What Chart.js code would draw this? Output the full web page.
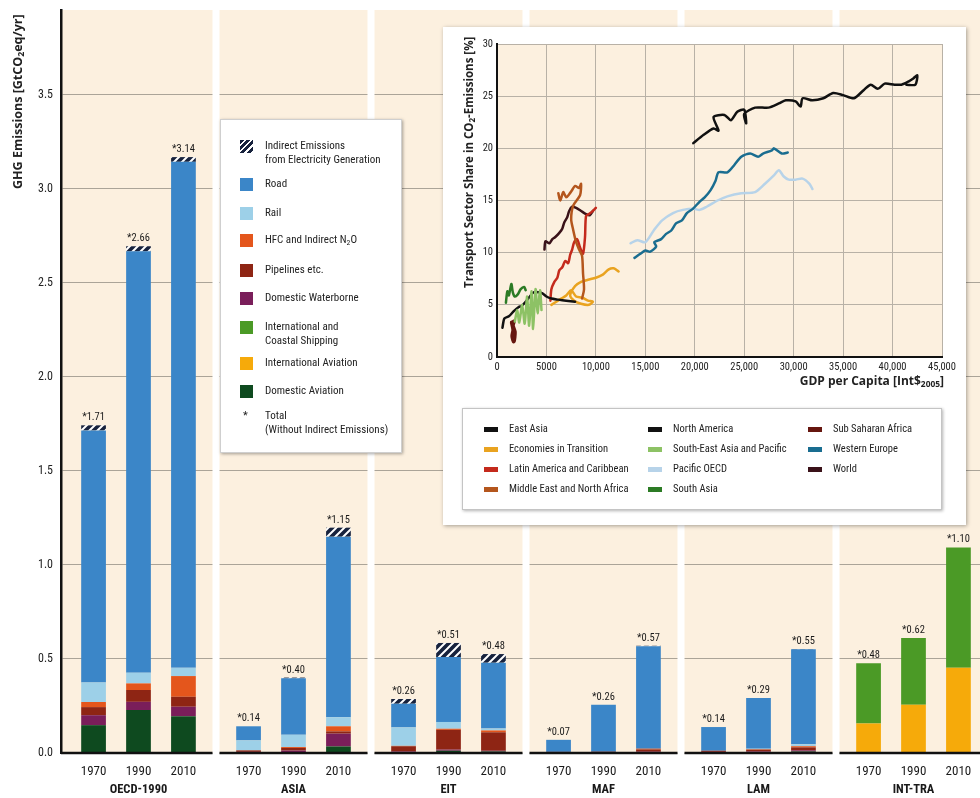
<!DOCTYPE html>
<html lang="en">
<head>
<meta charset="UTF-8">
<title>Transport GHG emissions by region</title>
<script src="https://cdn.jsdelivr.net/npm/chart.js"></script>
<style>
  html, body { margin: 0; padding: 0; background: #fff; overflow: hidden; }
  body { width: 980px; height: 798px; position: relative; color: #222;
         font-family: 'Liberation Sans Narrow', 'Roboto Condensed', Roboto, sans-serif; }
  canvas { position: absolute; }
  #main { left: 0; top: 0; }
  .rot { position: absolute; font-weight: bold; white-space: nowrap; line-height: 14px;
         font-family: 'Open Sans', Roboto, sans-serif;
         transform-origin: left top; transform: rotate(-90deg); }
  sub { font-size: 70%; vertical-align: -2px; line-height: 0; }
  #sectorLegend { position: absolute; left: 220px; top: 119px; width: 180px; height: 332px; background: #fff;
                  border: 1px solid #cfcfcf; box-shadow: 1px 1px 3px rgba(0,0,0,.35); font-size: 11px; }
  #sectorLegend .it { position: absolute; left: 19px; line-height: 14px; }
  #sectorLegend .it i { position: absolute; left: 0; top: 1px; width: 13px; height: 13px; }
  #sectorLegend .it span { position: absolute; left: 25px; top: 0; white-space: nowrap; }
  #inset { position: absolute; left: 443px; top: 27px; width: 523px; height: 498px; background: #fff;
           box-shadow: 1px 1px 4px rgba(0,0,0,.35); }
  #lines { left: 443px; top: 27px; }
  #xTitle { position: absolute; right: 36px; top: 372px; font-weight: bold; font-size: 12px; white-space: nowrap;
            font-family: 'Open Sans', Roboto, sans-serif; }
  #regionLegend { position: absolute; left: 462px; top: 408px; width: 478px; height: 100px; background: #fff;
                  border: 1px solid #c4c4c4; box-shadow: 1px 1px 3px rgba(0,0,0,.3); font-size: 10.5px; }
  #regionLegend .ri { position: absolute; line-height: 14px; white-space: nowrap; }
  #regionLegend .ri i { position: absolute; left: 0; top: 5px; width: 14px; height: 5px; }
  #regionLegend .ri span { position: absolute; left: 25px; top: 0; }
</style>
</head>
<body>
<canvas id="main" width="991" height="798"></canvas>
<div class="rot" style="left:11px; top:189px; font-size:12.5px;">GHG Emissions [GtCO<sub>2</sub>eq/yr]</div>

<div id="sectorLegend">
  <div class="it" style="top:19px"><i style="background:repeating-linear-gradient(135deg,#17223d 0 3px,#fff 3px 4.5px)"></i><span>Indirect Emissions<br>from Electricity Generation</span></div>
  <div class="it" style="top:57px"><i style="background:#3b86c8"></i><span>Road</span></div>
  <div class="it" style="top:86px"><i style="background:#9dd0e8"></i><span>Rail</span></div>
  <div class="it" style="top:113px"><i style="background:#e4561c"></i><span>HFC and Indirect N<sub>2</sub>O</span></div>
  <div class="it" style="top:143px"><i style="background:#8e2514"></i><span>Pipelines etc.</span></div>
  <div class="it" style="top:171px"><i style="background:#7a1e5a"></i><span>Domestic Waterborne</span></div>
  <div class="it" style="top:200px"><i style="background:#4b9a26"></i><span>International and<br>Coastal Shipping</span></div>
  <div class="it" style="top:236px"><i style="background:#f6aa0a"></i><span>International Aviation</span></div>
  <div class="it" style="top:264px"><i style="background:#0e4a1f"></i><span>Domestic Aviation</span></div>
  <div class="it" style="top:289px"><span style="left:3px">*</span><span>Total<br>(Without Indirect Emissions)</span></div>
</div>

<div id="inset"></div>
<canvas id="lines" width="523" height="380"></canvas>
<div class="rot" style="left:462px; top:288px; font-size:11.5px;">Transport Sector Share in CO<sub>2</sub>-Emissions [%]</div>
<div id="xTitle">GDP per Capita [Int$<sub>2005</sub>]</div>

<div id="regionLegend">
  <div class="ri" style="left:21px;top:13px"><i style="background:#111"></i><span>East Asia</span></div>
  <div class="ri" style="left:21px;top:33px"><i style="background:#e9a320"></i><span>Economies in Transition</span></div>
  <div class="ri" style="left:21px;top:53px"><i style="background:#c42a1c"></i><span>Latin America and Caribbean</span></div>
  <div class="ri" style="left:21px;top:73px"><i style="background:#b4561d"></i><span>Middle East and North Africa</span></div>
  <div class="ri" style="left:185px;top:13px"><i style="background:#111"></i><span>North America</span></div>
  <div class="ri" style="left:185px;top:33px"><i style="background:#8dc265"></i><span>South-East Asia and Pacific</span></div>
  <div class="ri" style="left:185px;top:53px"><i style="background:#b7d3e9"></i><span>Pacific OECD</span></div>
  <div class="ri" style="left:185px;top:73px"><i style="background:#2c7b25"></i><span>South Asia</span></div>
  <div class="ri" style="left:345px;top:13px"><i style="background:#66160f"></i><span>Sub Saharan Africa</span></div>
  <div class="ri" style="left:345px;top:33px"><i style="background:#1a6d90"></i><span>Western Europe</span></div>
  <div class="ri" style="left:345px;top:53px"><i style="background:#3a1219"></i><span>World</span></div>
</div>

<script>
// ---- bar data: rows = 1970, 1990, 2010; columns = regions ----
const regions = ['OECD-1990', 'ASIA', 'EIT', 'MAF', 'LAM', 'INT-TRA'];
const years = ['1970', '1990', '2010'];

const domesticAviation = [
  [0.148, 0.003, 0.005, 0.002, 0.004, 0],
  [0.228, 0.005, 0.012, 0.003, 0.005, 0],
  [0.196, 0.035, 0.008, 0.005, 0.008, 0]
];
const domesticWaterborne = [
  [0.053, 0.003, 0.003, 0, 0.002, 0],
  [0.044, 0.008, 0.006, 0, 0.003, 0],
  [0.050, 0.068, 0.004, 0.002, 0.006, 0]
];
const pipelines = [
  [0.043, 0.008, 0.028, 0.004, 0.006, 0],
  [0.063, 0.014, 0.105, 0.004, 0.010, 0],
  [0.053, 0.012, 0.098, 0.012, 0.016, 0]
];
const hfc = [
  [0.027, 0, 0.002, 0, 0, 0],
  [0.035, 0.005, 0.006, 0, 0.002, 0],
  [0.110, 0.027, 0.010, 0.004, 0.006, 0]
];
const rail = [
  [0.104, 0.053, 0.098, 0, 0, 0],
  [0.057, 0.065, 0.036, 0, 0.003, 0],
  [0.044, 0.048, 0.010, 0, 0.010, 0]
];
const road = [
  [1.34, 0.075, 0.126, 0.064, 0.126, 0],
  [2.24, 0.30, 0.345, 0.25, 0.27, 0],
  [2.69, 0.96, 0.35, 0.545, 0.505, 0]
];
const intlAviation = [
  [0, 0, 0, 0, 0, 0.157],
  [0, 0, 0, 0, 0, 0.256],
  [0, 0, 0, 0, 0, 0.453]
];
const intlShipping = [
  [0, 0, 0, 0, 0, 0.32],
  [0, 0, 0, 0, 0, 0.355],
  [0, 0, 0, 0, 0, 0.64]
];
const indirect = [
  [0.027, 0, 0.025, 0, 0, 0],
  [0.027, 0.004, 0.075, 0, 0, 0],
  [0.025, 0.048, 0.046, 0.002, 0.002, 0]
];
const totalLabels = [
  ['1.71', '0.14', '0.26', '0.07', '0.14', '0.48'],
  ['2.66', '0.40', '0.51', '0.26', '0.29', '0.62'],
  ['3.14', '1.15', '0.48', '0.57', '0.55', '1.10']
];
const yTicks = [0, 0.5, 1, 1.5, 2, 2.5, 3, 3.5];

// ---- inset data: [GDP per capita, transport share %] ----
const northAmerica = [[19850,20.5],[20900,21.3],[21900,21.9],[22400,21.7],[21900,23.0],[23000,23.2],[23650,22.7],[24300,23.5],[25000,23.7],[25200,22.4],[25000,23.3],[26100,23.9],[27450,23.9],[28500,24.3],[29200,24.6],[30200,24.5],[30700,24.0],[30900,24.8],[31900,24.6],[33000,24.8],[34000,25.3],[35000,25.1],[36100,24.8],[37100,25.6],[37800,26.1],[38500,25.7],[39200,26.2],[40200,26.1],[40900,26.1],[41600,26.4],[42100,26.7],[42500,27.0],[42300,26.1],[41400,26.1]];
const westernEurope = [[13900,9.5],[14500,9.9],[15000,10.2],[15500,10.1],[16100,10.6],[15900,11.0],[16600,11.3],[17100,11.8],[17600,12.1],[18100,12.8],[18700,13.1],[19200,13.8],[19800,14.2],[20500,14.9],[21000,15.3],[21600,16.0],[22100,16.9],[22400,17.7],[23300,17.7],[24000,18.4],[24700,19.2],[25600,19.5],[26400,19.2],[26900,19.5],[27800,19.8],[28000,20.0],[28800,19.5],[29400,19.6]];
const pacificOECD = [[13500,10.9],[14200,11.2],[15000,11.0],[15900,12.2],[16700,13.1],[17800,13.8],[18800,14.1],[19900,14.2],[20500,14.1],[21200,14.4],[22300,15.0],[23300,15.4],[24700,15.7],[26100,15.8],[27100,16.6],[28000,17.4],[28500,17.9],[29000,17.3],[29500,17.0],[30200,17.0],[30900,17.1],[31600,16.6],[31900,16.1]];
const eastAsia = [[550,2.8],[750,3.7],[1200,3.9],[1700,4.4],[2200,4.8],[2500,4.9],[2900,5.3],[3400,5.9],[3700,6.2],[4200,6.2],[4600,6.1],[5000,5.8],[5500,5.6],[6200,5.5],[7000,5.4],[7900,5.3]];
const southAsia = [[900,5.2],[1050,6.3],[1200,5.9],[1450,7.0],[1600,6.2],[1800,5.8],[2100,6.0],[2400,6.5],[2750,6.7],[2900,6.4]];
const southEastAsia = [[1800,3.4],[2050,4.5],[2250,3.3],[2550,5.0],[2800,3.2],[3050,5.8],[3250,3.0],[3500,6.3],[3650,2.7],[3900,6.5],[4100,4.2],[4350,6.4],[4500,4.5]];
const subSaharan = [[1500,3.3],[1650,2.6],[1550,2.0],[1700,1.5],[1800,2.4],[1600,3.0],[1700,3.4]];
const world = [[4800,10.3],[4900,11.1],[5300,10.9],[5600,11.3],[5900,11.5],[6300,11.9],[6600,12.3],[6800,12.9],[7100,13.4],[7300,14.0],[7600,14.4],[8000,14.3],[8500,14.0],[9000,13.7],[9400,13.6],[9700,14.0]];
const latinAmerica = [[5400,5.4],[5500,6.5],[5800,7.2],[6100,7.6],[6300,8.3],[6600,8.6],[6900,9.2],[7200,9.0],[7400,9.8],[7600,10.3],[7800,11.0],[8100,11.3],[8400,10.5],[8700,9.9],[8900,11.5],[9000,13.5],[9300,13.7],[9700,14.0],[10000,14.3]];
const middleEast = [[6200,15.7],[6400,15.0],[6700,15.8],[7000,15.3],[7300,15.6],[7600,16.0],[7900,16.4],[8300,16.2],[8500,16.6],[8400,15.5],[7700,14.5],[7500,13.2],[7700,12.2],[8000,11.0],[8300,10.3],[8600,9.7],[8700,8.0],[8800,6.5],[8600,5.6]];
const economiesInTransition = [[5500,5.0],[6000,5.3],[6500,5.6],[7000,5.9],[7500,6.4],[8000,5.8],[8600,5.7],[9200,5.4],[9700,5.3],[9300,5.0],[8500,5.1],[7800,5.4],[7400,5.9],[7900,6.8],[8500,7.2],[9200,7.4],[10000,7.6],[10700,7.9],[11300,8.4],[11800,8.5],[12300,8.2]];

const FONT = "'Liberation Sans Narrow', 'Roboto Condensed', Roboto, sans-serif";
const BEIGE = '#fcf0df';

function hatchPattern(ctx) {
  const c = document.createElement('canvas');
  c.width = 8; c.height = 8;
  const g = c.getContext('2d');
  g.fillStyle = '#17223d';
  g.fillRect(0, 0, 8, 8);
  g.strokeStyle = '#fff';
  g.lineWidth = 2;
  g.beginPath();
  g.moveTo(-1, 9); g.lineTo(9, -1);
  g.moveTo(-3, 3); g.lineTo(3, -3);
  g.moveTo(5, 11); g.lineTo(11, 5);
  g.stroke();
  return ctx.createPattern(c, 'repeat');
}

const mainCtx = document.getElementById('main').getContext('2d');
const sectors = [
  { label: 'Domestic Aviation', values: domesticAviation, color: '#0e4a1f' },
  { label: 'Domestic Waterborne', values: domesticWaterborne, color: '#7a1e5a' },
  { label: 'Pipelines etc.', values: pipelines, color: '#8e2514' },
  { label: 'HFC and Indirect N2O', values: hfc, color: '#e4561c' },
  { label: 'Rail', values: rail, color: '#9dd0e8' },
  { label: 'Road', values: road, color: '#3b86c8' },
  { label: 'International Aviation', values: intlAviation, color: '#f6aa0a' },
  { label: 'International and Coastal Shipping', values: intlShipping, color: '#4b9a26' },
  { label: 'Indirect Emissions', values: indirect, color: hatchPattern(mainCtx) }
];

const datasets = [];
years.forEach((yr, yi) => {
  sectors.forEach(s => {
    datasets.push({ label: s.label, stack: yr, data: s.values[yi], backgroundColor: s.color,
                    borderWidth: 0, categoryPercentage: 0.87, barPercentage: 0.55 });
  });
});

// beige panels, white gaps, baselines, year / region / total labels
const panels = {
  id: 'panels',
  beforeDraw(chart) {
    const a = chart.chartArea, c = chart.ctx;
    c.save();
    c.fillStyle = BEIGE;
    c.fillRect(a.left, a.top, a.right - a.left, a.bottom - a.top);
    c.restore();
  },
  beforeDatasetsDraw(chart) {
    const a = chart.chartArea, c = chart.ctx;
    const w = (a.right - a.left) / regions.length;
    c.save();
    c.fillStyle = '#fff';
    for (let i = 1; i < regions.length; i++) {
      c.fillRect(a.left + i * w - 3.5, a.top - 1, 7, a.bottom - a.top + 4);
    }
    c.restore();
  },
  afterDatasetsDraw(chart) {
    const a = chart.chartArea, c = chart.ctx, x = chart.scales.x;
    const w = (a.right - a.left) / regions.length;
    c.save();
    c.strokeStyle = '#111';
    c.lineWidth = 2.5;
    for (let i = 0; i < regions.length; i++) {
      c.beginPath();
      c.moveTo(a.left + i * w + (i ? 3.5 : 0), a.bottom);
      c.lineTo(a.left + (i + 1) * w - 3.5, a.bottom);
      c.stroke();
    }
    c.fillStyle = '#1a1a1a';
    c.textAlign = 'center';
    years.forEach((yr, yi) => {
      const meta = chart.getDatasetMeta(yi * sectors.length + sectors.length - 1);
      meta.data.forEach((bar, r) => {
        c.font = '13px ' + FONT;
        c.textBaseline = 'middle';
        c.fillText(yr, bar.x, 772);
        c.font = '10.5px ' + FONT;
        c.textBaseline = 'alphabetic';
        c.fillText('*' + totalLabels[yi][r], bar.x, bar.y - 5);
      });
    });
    c.font = 'bold 12.5px ' + FONT;
    c.textBaseline = 'middle';
    regions.forEach((r, i) => c.fillText(r, x.getPixelForTick(i), 790));
    c.restore();
  }
};

new Chart(mainCtx, {
  type: 'bar',
  data: { labels: regions, datasets: datasets },
  options: {
    responsive: false, animation: false, devicePixelRatio: 1,
    layout: { padding: { top: 10, left: 0, right: 0, bottom: 0 } },
    plugins: { legend: { display: false }, tooltip: { enabled: false } },
    scales: {
      x: {
        stacked: true,
        ticks: { display: false },
        grid: { display: false },
        border: { display: false },
        afterFit(s) { s.height = 45; s.paddingLeft = 0; s.paddingRight = 0; }
      },
      y: {
        stacked: true, min: 0, max: 3.95,
        afterBuildTicks(s) { s.ticks = yTicks.map(v => ({ value: v })); },
        ticks: { font: { size: 12, family: FONT }, color: '#222', padding: 8,
                 callback: v => v.toFixed(1) },
        grid: { color: '#aba498', lineWidth: 1, drawTicks: false },
        border: { display: true, color: '#111', width: 2.5 },
        afterFit(s) { s.width = 61; s.paddingTop = 0; s.paddingBottom = 0; }
      }
    }
  },
  plugins: [panels]
});

// ---- inset line chart ----
const regionLines = [
  { label: 'North America', pts: northAmerica, color: '#111111' },
  { label: 'Western Europe', pts: westernEurope, color: '#1a6d90' },
  { label: 'Pacific OECD', pts: pacificOECD, color: '#b7d3e9' },
  { label: 'South Asia', pts: southAsia, color: '#2c7b25' },
  { label: 'South-East Asia and Pacific', pts: southEastAsia, color: '#8dc265' },
  { label: 'East Asia', pts: eastAsia, color: '#111111' },
  { label: 'Sub Saharan Africa', pts: subSaharan, color: '#66160f', width: 4 },
  { label: 'Middle East and North Africa', pts: middleEast, color: '#b4561d' },
  { label: 'Latin America and Caribbean', pts: latinAmerica, color: '#c42a1c' },
  { label: 'World', pts: world, color: '#3a1219' },
  { label: 'Economies in Transition', pts: economiesInTransition, color: '#e9a320' }
];

const plotBg = {
  id: 'plotBg',
  beforeDraw(chart) {
    const a = chart.chartArea, c = chart.ctx;
    c.save();
    c.fillStyle = BEIGE;
    c.fillRect(a.left, a.top, a.right - a.left, a.bottom - a.top);
    c.restore();
  }
};

new Chart(document.getElementById('lines'), {
  type: 'line',
  data: {
    datasets: regionLines.map(l => ({
      label: l.label, data: l.pts.map(p => ({ x: p[0], y: p[1] })),
      borderColor: l.color, borderWidth: l.width || 2.5, pointRadius: 0, tension: 0.25,
      borderCapStyle: 'round', borderJoinStyle: 'round', fill: false
    }))
  },
  options: {
    responsive: false, animation: false, devicePixelRatio: 1,
    layout: { padding: { top: 17, right: 24, left: 0, bottom: 0 } },
    plugins: { legend: { display: false }, tooltip: { enabled: false } },
    scales: {
      x: {
        type: 'linear', min: 0, max: 45000,
        ticks: { stepSize: 5000, font: { size: 10.5, family: FONT }, color: '#222', padding: 4, maxRotation: 0,
                 callback: v => v < 10000 ? String(v) : v.toLocaleString('en-US') },
        grid: { color: '#b8b1a6', drawTicks: false },
        border: { color: '#111', width: 2 },
        afterFit(s) { s.height = 50; s.paddingLeft = 0; s.paddingRight = 0; }
      },
      y: {
        min: 0, max: 30,
        ticks: { stepSize: 5, font: { size: 10.5, family: FONT }, color: '#222', padding: 4 },
        grid: { color: '#b8b1a6', drawTicks: false },
        border: { color: '#111', width: 2 },
        afterFit(s) { s.width = 54; s.paddingTop = 0; s.paddingBottom = 0; }
      }
    }
  },
  plugins: [plotBg]
});
</script>
</body>
</html>
